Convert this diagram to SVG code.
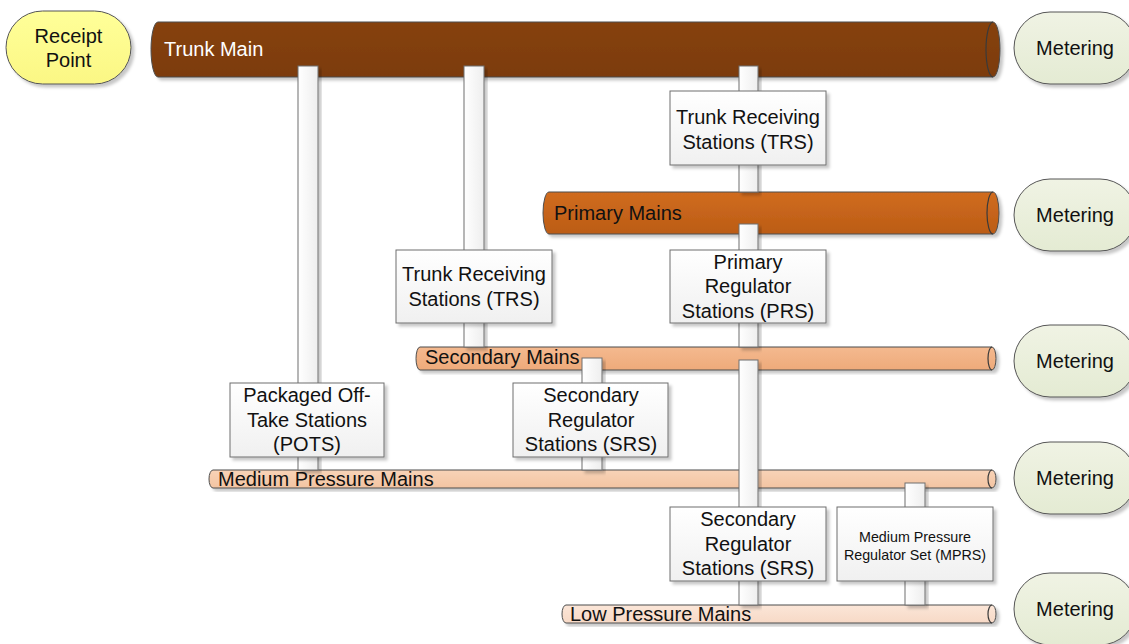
<svg xmlns="http://www.w3.org/2000/svg" width="1129" height="644" viewBox="0 0 1129 644">
<defs>
<filter id="sh" x="-10%" y="-10%" width="130%" height="130%">
<feDropShadow dx="3" dy="3" stdDeviation="1.5" flood-color="#000" flood-opacity="0.22"/>
</filter>
<linearGradient id="gBox" x1="0" y1="0" x2="0" y2="1"><stop offset="0" stop-color="#ffffff"/><stop offset="1" stop-color="#f0f0f0"/></linearGradient>
<linearGradient id="gBar" x1="0" y1="0" x2="1" y2="0"><stop offset="0" stop-color="#ffffff"/><stop offset="1" stop-color="#eeeeee"/></linearGradient>
<linearGradient id="gTrunk" x1="0" y1="0" x2="0" y2="1"><stop offset="0" stop-color="#86420f"/><stop offset="1" stop-color="#7c3b0b"/></linearGradient>
<linearGradient id="gPrim" x1="0" y1="0" x2="0" y2="1"><stop offset="0" stop-color="#d06c20"/><stop offset="1" stop-color="#bb5c15"/></linearGradient>
<linearGradient id="gSec" x1="0" y1="0" x2="0" y2="1"><stop offset="0" stop-color="#f4b98f"/><stop offset="1" stop-color="#eeaa7a"/></linearGradient>
<linearGradient id="gMed" x1="0" y1="0" x2="0" y2="1"><stop offset="0" stop-color="#f8d3b7"/><stop offset="1" stop-color="#f3c4a2"/></linearGradient>
<linearGradient id="gLow" x1="0" y1="0" x2="0" y2="1"><stop offset="0" stop-color="#fbe6d8"/><stop offset="1" stop-color="#f7d9c6"/></linearGradient>
<linearGradient id="gMet" x1="0" y1="0" x2="0" y2="1"><stop offset="0" stop-color="#f0f3e4"/><stop offset="1" stop-color="#e4ebd3"/></linearGradient>
<linearGradient id="gRec" x1="0" y1="0" x2="0" y2="1"><stop offset="0" stop-color="#ffff99"/><stop offset="1" stop-color="#fbf784"/></linearGradient>
</defs>
<style>
text{font-family:"Liberation Sans",Arial,sans-serif;fill:#111;}
.lbl{font-size:20px;text-anchor:middle;}
.pl{font-size:20px;}
.sm{font-size:14.3px;text-anchor:middle;}
.pipe{stroke:#4d4d4d;stroke-width:1;filter:url(#sh);}
.cap{fill:none;stroke:#3a3a3a;stroke-width:1.2;}
.box{fill:url(#gBox);stroke:#6e6e6e;stroke-width:1;filter:url(#sh);}
.bar{fill:url(#gBar);stroke:#6e6e6e;stroke-width:1;filter:url(#sh);}
.met{fill:url(#gMet);stroke:#555;stroke-width:1;filter:url(#sh);}
</style>

<g id="receipt-point">
<rect x="6" y="11" width="125" height="73" rx="36.5" fill="url(#gRec)" stroke="#555" stroke-width="1" filter="url(#sh)"/>
<text class="lbl" x="68.5" y="43">Receipt</text>
<text class="lbl" x="68.5" y="67">Point</text>
</g>

<g id="trunk-main">
<path class="pipe" fill="url(#gTrunk)" d="M158,22 H993 A7,27.5 0 0 1 993,77 H158 A7,27.5 0 0 1 158,22 Z"/>
<path class="cap" d="M993,22 A7,27.5 0 0 0 993,77"/>
<text class="pl" x="164" y="56" style="fill:#fff">Trunk Main</text>
</g>

<g id="primary-mains">
<path class="pipe" fill="url(#gPrim)" d="M549,192 H993 A6,21 0 0 1 993,234 H549 A6,21 0 0 1 549,192 Z"/>
<path class="cap" d="M993,192 A6,21 0 0 0 993,234"/>
<text class="pl" x="554" y="220">Primary Mains</text>
</g>

<g id="secondary-mains">
<path class="pipe" fill="url(#gSec)" d="M420,347 H992 A4,11.5 0 0 1 992,370 H420 A4,11.5 0 0 1 420,347 Z"/>
<path class="cap" d="M992,347 A4,11.5 0 0 0 992,370"/>
<text class="pl" x="425" y="364">Secondary Mains</text>
</g>

<g id="medium-pressure-mains">
<path class="pipe" fill="url(#gMed)" d="M213,470 H992 A4,9 0 0 1 992,488 H213 A4,9 0 0 1 213,470 Z"/>
<path class="cap" d="M992,470 A4,9 0 0 0 992,488"/>
<text class="pl" x="218" y="486">Medium Pressure Mains</text>
</g>

<g id="low-pressure-mains">
<path class="pipe" fill="url(#gLow)" d="M566,605 H992 A4,9 0 0 1 992,623 H566 A4,9 0 0 1 566,605 Z"/>
<path class="cap" d="M992,605 A4,9 0 0 0 992,623"/>
<text class="pl" x="570" y="621">Low Pressure Mains</text>
</g>

<g id="connectors">
<rect class="bar" x="298" y="66" width="20" height="404"/>
<rect class="bar" x="464" y="66" width="20" height="281"/>
<rect class="bar" x="739" y="66" width="19" height="126"/>
<rect class="bar" x="739" y="224" width="19" height="123"/>
<rect class="bar" x="739" y="360" width="19" height="245"/>
<rect class="bar" x="582" y="358" width="20" height="112"/>
<rect class="bar" x="905" y="483" width="20" height="122"/>
</g>

<g id="trs-1">
<rect class="box" x="670" y="91" width="156" height="74"/>
<text class="lbl" x="748" y="124">Trunk Receiving</text>
<text class="lbl" x="748" y="149">Stations (TRS)</text>
</g>

<g id="trs-2">
<rect class="box" x="396" y="250" width="156" height="73"/>
<text class="lbl" x="474" y="281">Trunk Receiving</text>
<text class="lbl" x="474" y="306">Stations (TRS)</text>
</g>

<g id="prs">
<rect class="box" x="670" y="250" width="156" height="73"/>
<text class="lbl" x="748" y="269">Primary</text>
<text class="lbl" x="748" y="293">Regulator</text>
<text class="lbl" x="748" y="318">Stations (PRS)</text>
</g>

<g id="pots">
<rect class="box" x="230" y="383" width="154" height="74"/>
<text class="lbl" x="307" y="402">Packaged Off-</text>
<text class="lbl" x="307" y="427">Take Stations</text>
<text class="lbl" x="307" y="451">(POTS)</text>
</g>

<g id="srs-1">
<rect class="box" x="513" y="383" width="155" height="74"/>
<text class="lbl" x="591" y="402">Secondary</text>
<text class="lbl" x="591" y="427">Regulator</text>
<text class="lbl" x="591" y="451">Stations (SRS)</text>
</g>

<g id="srs-2">
<rect class="box" x="670" y="507" width="156" height="74"/>
<text class="lbl" x="748" y="526">Secondary</text>
<text class="lbl" x="748" y="551">Regulator</text>
<text class="lbl" x="748" y="575">Stations (SRS)</text>
</g>

<g id="mprs">
<rect class="box" x="837" y="507" width="156" height="74"/>
<text class="sm" x="915" y="542">Medium Pressure</text>
<text class="sm" x="915" y="560">Regulator Set (MPRS)</text>
</g>

<g id="metering-1">
<rect class="met" x="1014" y="12" width="122" height="72" rx="36"/>
<text class="lbl" x="1075" y="55">Metering</text>
</g>
<g id="metering-2">
<rect class="met" x="1014" y="179" width="122" height="72" rx="36"/>
<text class="lbl" x="1075" y="222">Metering</text>
</g>
<g id="metering-3">
<rect class="met" x="1014" y="325" width="122" height="72" rx="36"/>
<text class="lbl" x="1075" y="368">Metering</text>
</g>
<g id="metering-4">
<rect class="met" x="1014" y="442" width="122" height="72" rx="36"/>
<text class="lbl" x="1075" y="485">Metering</text>
</g>
<g id="metering-5">
<rect class="met" x="1014" y="573" width="122" height="72" rx="36"/>
<text class="lbl" x="1075" y="616">Metering</text>
</g>
</svg>
